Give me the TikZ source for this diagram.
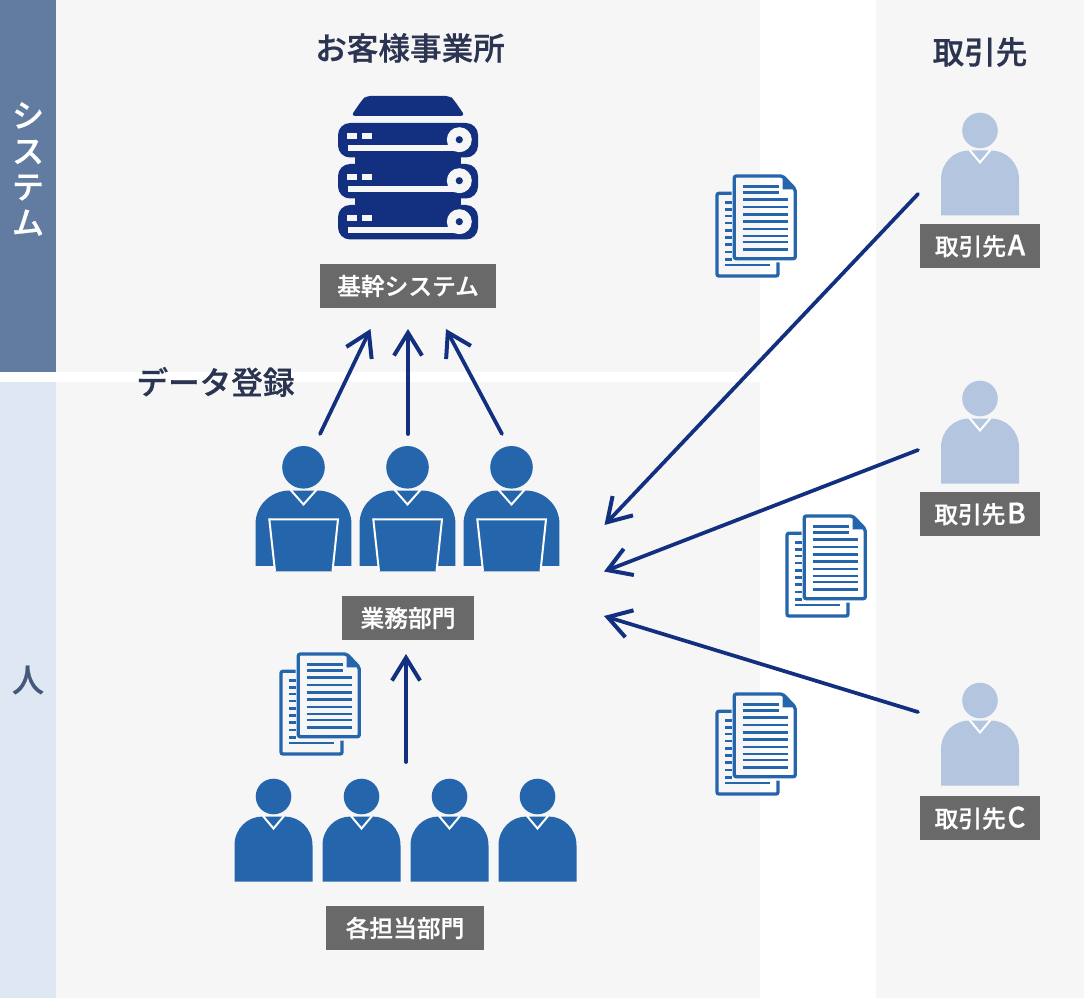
\documentclass[tikz,border=0pt]{standalone}
\usepackage{fontspec}
\setmainfont{Noto Sans CJK JP}[BoldFont={Noto Sans CJK JP Medium},BoldFeatures={FakeBold=0.7}]
\usepackage{xcolor}
\usepackage{tikz}
\usetikzlibrary{arrows.meta}
\definecolor{siteGray}{HTML}{F6F6F7}
\definecolor{sideDark}{HTML}{627BA1}
\definecolor{sideLight}{HTML}{DEE7F2}
\definecolor{titleInk}{HTML}{2B3450}
\definecolor{sideInk}{HTML}{46587A}
\definecolor{labelGray}{HTML}{696969}
\definecolor{staffBlue}{HTML}{2565AB}
\definecolor{partnerBlue}{HTML}{B3C5DF}
\definecolor{navyBlue}{HTML}{122F80}
\tikzset{
  data arrow/.style={-{Straight Barb[length=6mm,width=7.4mm,line width=3pt]}, line width=2.8pt,
    draw=navyBlue, line cap=round},
  tag box/.style={fill=labelGray, text=white, font=\fontsize{17.8}{20}\selectfont\bfseries,
    minimum height=33pt, inner xsep=0pt, inner ysep=0pt},
  site title/.style={text=titleInk, font=\fontsize{23.7}{27}\selectfont\bfseries, inner sep=0pt},
  side title/.style={font=\fontsize{24}{26.8}\selectfont\bfseries, align=center, inner sep=0pt},
  bust/.pic={
    \fill[#1] (-39,85) -- (-39,49) .. controls (-39,32) and (-26,20) .. (-11,20)
      -- (11,20) .. controls (26,20) and (39,32) .. (39,49) -- (39,85) -- cycle;
    \draw[white, line width=1.5pt] (-10.5,19.5) -- (0,32) -- (10.5,19.5);
  },
  laptop/.pic={
    \fill[staffBlue] (-34.2,52) -- (34.5,52) -- (29,104) -- (-28.5,104) -- cycle;
    \draw[white, line width=1.5pt] (-28.5,104) -- (-34.2,52) -- (34.5,52) -- (29,104);
  },
  paper stack/.pic={
    \draw[staffBlue, line width=2.5pt, rounded corners=1.5pt]
      (14.5,17.3) -- (0,17.3) -- (0,100) -- (61,100) -- (61,86.5);
    \draw[staffBlue, line width=2.5pt, rounded corners=1.5pt]
      (17.3,0) -- (65.7,0) -- (78.3,13.3) -- (78.3,82.7) -- (17.3,82.7) -- cycle;
    \fill[staffBlue] (65.7,0) -- (78.3,13.3) -- (65.7,13.3) -- cycle;
    \foreach \y in {10.3,16.7}
      \draw[staffBlue, line width=2pt] (25.7,\y) -- (62.3,\y);
    \foreach \y in {23.7,31,38.3,45.7,53,60,66,73.3}
      \draw[staffBlue, line width=2pt] (25.7,\y) -- (70.7,\y);
    \foreach \y in {26.7,33.7,40,47,54.3,61.7,68.7,76,83.3}
      \draw[staffBlue, line width=2pt] (8.3,\y) -- (15,\y);
    \draw[staffBlue, line width=2pt] (8.3,89) -- (53.3,89);
  }
}
\begin{document}
\begin{tikzpicture}[x=0.75pt,y=-0.75pt]
  \useasboundingbox (0,0) rectangle (1084,998);
  \fill[white] (0,0) rectangle (1084,998);
  % panels
  \fill[siteGray] (56,0) rectangle (760,372);
  \fill[siteGray] (56,382) rectangle (760,998);
  \fill[siteGray] (876,0) rectangle (1084,998);
  \fill[sideDark] (0,0) rectangle (56,372);
  \fill[sideLight] (0,382) rectangle (56,998);
  \node[side title, text=white] (sysside) at (28,169) {シ\\ス\\テ\\ム};
  \node[side title, text=sideInk] (humanside) at (28,680) {人};
  \node[site title] (office) at (410,48) {お客様事業所};
  \node[site title] (partners) at (980,52) {取引先};
  \node[site title] (entry) at (215.5,382) {データ登録};

  % server
  \fill[navyBlue, rounded corners=3pt] (351,116) -- (362,100) -- (366,96) -- (450,96) -- (454,100) -- (465,116) -- cycle;
  \fill[navyBlue] (355,150) rectangle (461,215);
  \foreach \dy in {0,41,82} {
    \fill[navyBlue, rounded corners=9pt] (338,123+\dy) rectangle (478,157.5+\dy);
    \fill[siteGray] (347.3,132.7+\dy) rectangle (357.3,139+\dy);
    \fill[siteGray] (361.7,132.7+\dy) rectangle (371.7,139+\dy);
    \fill[siteGray] (348.3,145+\dy) rectangle (454,151+\dy);
    \fill[siteGray] (459.3,139.7+\dy) circle[radius=12.5];
    \fill[navyBlue] (459.3,139.7+\dy) circle[radius=3.6];
  }
  \node[tag box, minimum width=132pt] (core) at (408,286) {基幹システム};

  % sales staff
  \foreach \px/\pname in {303.5/a,407.5/b,511.5/c} {
    \fill[staffBlue] (\px,467.3) circle[radius=21.3];
    \pic[xscale=1.23,yscale=1.16] (sales\pname) at (\px,467.3) {bust=staffBlue};
    \pic (pc\pname) at (\px,467.3) {laptop};
  }
  \node[tag box, minimum width=99pt] (sales) at (408,618) {業務部門};

  % staff of each section
  \foreach \px/\pname in {273.5/a,361.5/b,449.5/c,537.5/d} {
    \fill[staffBlue] (\px,796.5) circle[radius=17.8];
    \pic (staff\pname) at (\px,796.5) {bust=staffBlue};
  }
  \node[tag box, minimum width=118.5pt] (staff) at (405,928) {各担当部門};

  % partners
  \foreach \py/\ty/\pname in {130.5/246/A,398.5/514/B,700.5/818/C} {
    \fill[partnerBlue] (980,\py) circle[radius=17.8];
    \pic (partner\pname) at (980,\py) {bust=partnerBlue};
    \node[tag box, minimum width=90pt] (tag\pname) at (980,\ty) {取引先\kern1.2pt{\fontsize{21}{20}\selectfont\pname}};
  }

  % papers
  \pic (paperA) at (717,176) {paper stack};
  \pic (paperB) at (787,516) {paper stack};
  \pic (paperC) at (717,694) {paper stack};
  \pic (paperD) at (281,654) {paper stack};

  % arrows
  \coordinate (upA0) at (320,434); \coordinate (upA1) at (370.5,329);
  \coordinate (upB0) at (408,434); \coordinate (upB1) at (408,329);
  \coordinate (upC0) at (502,434); \coordinate (upC1) at (446,329);
  \coordinate (upD0) at (406,762); \coordinate (upD1) at (406,654);
  \coordinate (inA0) at (918,194); \coordinate (inA1) at (604.5,525);
  \coordinate (inB0) at (918,450); \coordinate (inB1) at (604,571.5);
  \coordinate (inC0) at (918,712); \coordinate (inC1) at (604,616);
  \draw[data arrow] (upA0) -- (upA1);
  \draw[data arrow] (upB0) -- (upB1);
  \draw[data arrow] (upC0) -- (upC1);
  \draw[data arrow] (upD0) -- (upD1);
  \draw[data arrow] (inA0) -- (inA1);
  \draw[data arrow] (inB0) -- (inB1);
  \draw[data arrow] (inC0) -- (inC1);
\end{tikzpicture}
\end{document}
